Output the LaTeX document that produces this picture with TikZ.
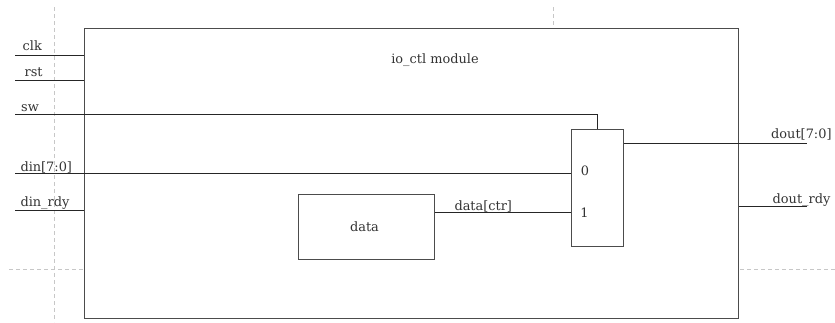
\documentclass[tikz,border=0pt]{standalone}
\usepackage{fontspec}
\setmainfont{DejaVu Serif}
\begin{document}
\begin{tikzpicture}[x=1pt,y=-1pt,
  guide/.style={draw=black!22, dash pattern=on 4pt off 3pt, line width=0.8pt},
  sig/.style={draw=black!85, line width=1pt},
  blk/.style={draw=black!70, line width=1.2pt, fill=none, inner sep=0pt},
  lbl/.style={inner sep=0pt, font=\fontsize{12.9}{15}\selectfont, text=black!80}]
\useasboundingbox (0,0) rectangle (835,322);
% guide lines
\draw[guide] (54,7) -- (54,322);
\draw[guide] (553,7) -- (553,27);
\draw[guide] (9,269) -- (83,269);
\draw[guide] (740,269) -- (835,269);
% main module
\node[blk, minimum width=654pt, minimum height=290pt, anchor=north west] (mod) at (84,28) {};
\node[lbl, anchor=base] (title) at (435,63) {io\_ctl module};
% inner blocks
\node[blk, minimum width=52pt, minimum height=117pt, anchor=north west] (mux) at (571,129) {};
\node[blk, minimum width=136pt, minimum height=65pt, anchor=north west] (data) at (298,194) {};
\node[lbl, anchor=base] (datat) at (364.5,231.5) {data};
\node[lbl] (m0) at (585,170.5) {0};
\node[lbl] (m1) at (584.5,213) {1};
% coordinates
\coordinate (clkA) at (15,55.5);
\coordinate (rstA) at (15,80);
\coordinate (swA) at (15,114);
\coordinate (dinA) at (15,173);
\coordinate (rdyA) at (15,210);
\coordinate (doutB) at (807,143);
\coordinate (drdyB) at (807,206);
% signal lines
\draw[sig] (clkA) -- (clkA -| mod.west);
\draw[sig] (rstA) -- (rstA -| mod.west);
\draw[sig] (swA) -- (597,114) -- (mux.north -| 597,0);
\draw[sig] (dinA) -- (dinA -| mux.west);
\draw[sig] (rdyA) -- (rdyA -| mod.west);
\draw[sig] (data.east |- 0,212) -- (mux.west |- 0,212);
\draw[sig] (mux.east |- doutB) -- (doutB);
\draw[sig] (mod.east |- drdyB) -- (drdyB);
% labels
\node[lbl, anchor=base west] (clkL) at (22.5,50) {clk};
\node[lbl, anchor=base west] (rstL) at (24.5,76.7) {rst};
\node[lbl, anchor=base west] (swL) at (21,111) {sw};
\node[lbl, anchor=base west] (dinL) at (20.3,171) {din[7:0]};
\node[lbl, anchor=base west] (rdyL) at (20.3,206) {din\_rdy};
\node[lbl, anchor=base west] (dctrL) at (454.3,210) {data[ctr]};
\node[lbl, anchor=base west] (doutL) at (771,138.3) {dout[7:0]};
\node[lbl, anchor=base west] (drdyL) at (772.5,203.3) {dout\_rdy};
\end{tikzpicture}
\end{document}
